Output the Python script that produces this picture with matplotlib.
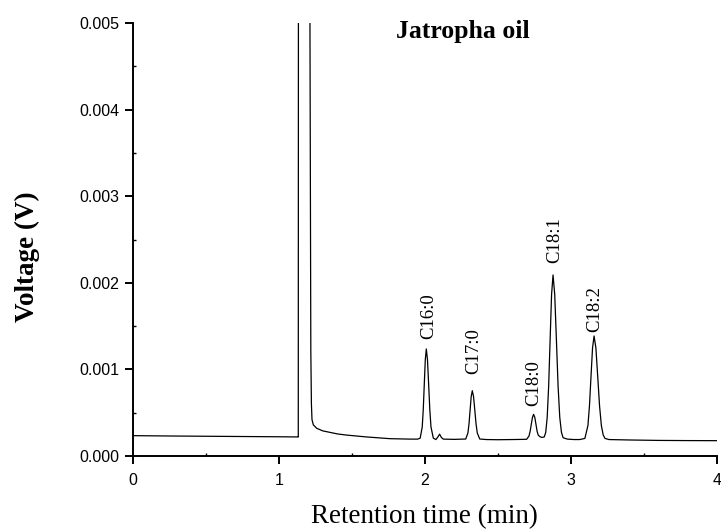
import matplotlib
matplotlib.use("Agg")
import matplotlib.pyplot as plt
from matplotlib.ticker import MultipleLocator, FormatStrFormatter

# Chromatogram trace: retention time (min) and detector voltage (V)
time_min = [
    0.00, 0.25, 0.50, 0.75, 1.00, 1.13, 1.132, 1.134, 1.17, 1.209, 1.212,
    1.218, 1.222, 1.226, 1.235, 1.258, 1.30, 1.40, 1.46, 1.60, 1.76, 1.90,
    1.950,
    # C16:0
    1.967, 1.981, 1.988, 1.995, 2.002, 2.009, 2.017, 2.025, 2.033, 2.041, 2.057,
    2.075, 2.088, 2.100, 2.112, 2.125, 2.20,
    # C17:0
    2.279, 2.294, 2.3015, 2.309, 2.3165, 2.324, 2.3325, 2.341, 2.3495, 2.358, 2.375,
    2.42, 2.50, 2.60, 2.67,
    # C18:0
    2.696, 2.712, 2.720, 2.728, 2.736, 2.744, 2.752, 2.760, 2.768, 2.776, 2.788,
    2.800, 2.812,
    # C18:1
    2.817, 2.827, 2.837, 2.847, 2.857, 2.867, 2.877, 2.8885, 2.900, 2.9115,
    2.923, 2.9345, 2.946, 2.975, 3.02, 3.06,
    # C18:2
    3.095, 3.116, 3.1265, 3.137, 3.1475, 3.158, 3.1705, 3.183, 3.1955, 3.208,
    3.2205, 3.233, 3.260,
    3.40, 3.60, 3.80, 4.00,
]
voltage_v = [
    0.000235, 0.000231, 0.000228, 0.000225, 0.000222, 0.000220, 0.000220, 0.0100,
    0.0600, 0.0100, 0.0050,
    0.00120, 0.00060, 0.00042, 0.00036, 0.00032, 0.00029, 0.000255, 0.000242,
    0.000220, 0.000200, 0.000195,
    0.000195,
    # C16:0
    0.000206, 0.000335, 0.000533, 0.000826, 0.001112, 0.001236, 0.001112,
    0.000826, 0.000533, 0.000335, 0.000206,
    0.000190, 0.000220, 0.000252, 0.000215, 0.000195, 0.000192,
    # C17:0
    0.000196, 0.000266, 0.000373, 0.000532, 0.000687, 0.000754, 0.000687,
    0.000532, 0.000373, 0.000266, 0.000196,
    0.000190, 0.000188, 0.000190, 0.000192,
    # C18:0
    0.000193, 0.000229, 0.000284, 0.000366, 0.000446, 0.000481, 0.000446,
    0.000366, 0.000284, 0.000240, 0.000222, 0.000215, 0.000218,
    # C18:1
    0.000221, 0.000274, 0.000447, 0.000808, 0.001343, 0.001866, 0.002090,
    0.001866, 0.001343, 0.000808, 0.000447, 0.000274, 0.000211, 0.000195,
    0.000190, 0.000190,
    # C18:2
    0.000203, 0.000352, 0.000580, 0.000918, 0.001248, 0.001386, 0.001248,
    0.000918, 0.000580, 0.000352, 0.000243, 0.000203, 0.000190,
    0.000185, 0.000180, 0.000178, 0.000177,
]

# Identified fatty acid methyl ester peaks
peak_names = ["C16:0", "C17:0", "C18:0", "C18:1", "C18:2"]
peak_times = [2.009, 2.324, 2.744, 2.877, 3.158]
peak_heights = [0.001236, 0.000754, 0.000481, 0.002090, 0.001386]
label_offsets_px = [(2, 10), (1, 17), (0, 8), (2, 12), (1, 4)]

x_ticks = [0, 1, 2, 3, 4]
y_ticks = [0.000, 0.001, 0.002, 0.003, 0.004, 0.005]

W, H = 721, 531
fig = plt.figure(figsize=(W / 100, H / 100), dpi=100)
ax = fig.add_axes([133 / W, 1 - 456 / H, (717 - 133) / W, (456 - 23) / H])

ax.plot(time_min, voltage_v, color="black", lw=0.9)

ax.set_xlim(0, 4)
ax.set_ylim(0, 0.005)
ax.set_xticks(x_ticks)
ax.set_yticks(y_ticks)
ax.xaxis.set_minor_locator(MultipleLocator(0.5))
ax.yaxis.set_minor_locator(MultipleLocator(0.0005))
ax.yaxis.set_major_formatter(FormatStrFormatter("%.3f"))

for side in ("top", "right"):
    ax.spines[side].set_visible(False)
for side in ("left", "bottom"):
    ax.spines[side].set_linewidth(1.4)

tick_font = "Liberation Sans"
ax.tick_params(which="major", direction="out", length=5.5, width=1.4,
               labelsize=11.5)
ax.tick_params(axis="x", which="major", pad=7)
ax.tick_params(axis="y", which="major", pad=4.5)
ax.tick_params(which="minor", direction="in", length=2, width=1.0)
for lab in ax.get_xticklabels() + ax.get_yticklabels():
    lab.set_fontfamily(tick_font)

serif = "Liberation Serif"
for name, t, h, (dx, dy) in zip(peak_names, peak_times, peak_heights,
                                label_offsets_px):
    ax.annotate(name, xy=(t, h), xytext=(dx, dy), textcoords="offset pixels",
                rotation=90, ha="center", va="bottom", fontsize=13.5,
                fontfamily=serif)

fig.text(463 / W, 1 - 38 / H, "Jatropha oil", ha="center", va="baseline",
         fontsize=18.5, fontweight="bold", fontfamily=serif)
fig.text(424 / W, 1 - 523 / H, "Retention time (min)", ha="center",
         va="baseline", fontsize=19.5, fontfamily=serif)
fig.text(27 / W, 1 - 257 / H, "Voltage (V)", ha="center", va="center",
         rotation=90, fontsize=19.5, fontweight="bold", fontfamily=serif)

fig.savefig("out.png", dpi=100)
